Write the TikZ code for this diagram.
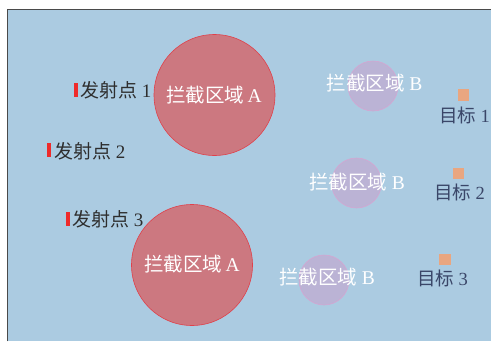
\documentclass[tikz,border=0pt]{standalone}
\usepackage{fontspec}
\setmainfont{Liberation Serif}
\newfontfamily\cjk{Noto Sans CJK SC}
\definecolor{bgblue}{HTML}{ABCBE1}
\definecolor{frameg}{HTML}{4A4A4A}
\definecolor{afill}{HTML}{CC7880}
\definecolor{aline}{HTML}{E0404A}
\definecolor{bfill}{HTML}{BBB3D5}
\definecolor{bline}{HTML}{D4A6D2}
\definecolor{tgt}{HTML}{E9A680}
\definecolor{tgttext}{HTML}{3A4668}
\definecolor{lchtext}{HTML}{2E2E2E}
\definecolor{lchred}{HTML}{EE2A2A}
\tikzset{
  zoneA/.style={circle, fill=afill, draw=aline, line width=0.6pt, minimum size=121pt, inner sep=0pt},
  zoneB/.style={circle, fill=bfill, draw=bline, line width=0.6pt, minimum size=50pt, inner sep=0pt},
  ztext/.style={text=white, inner sep=0pt, font=\fontsize{19.5}{21}\selectfont},
  ltext/.style={text=lchtext, inner sep=0pt, anchor=west, font=\fontsize{19}{21}\selectfont},
  ttext/.style={text=tgttext, inner sep=0pt, font=\fontsize{18.5}{20}\selectfont},
  lmark/.style={fill=lchred, draw=none, minimum width=4pt, minimum height=14pt, inner sep=0pt},
  tmark/.style={fill=tgt, draw=none, minimum size=11.5pt, inner sep=0pt}
}
\begin{document}
\begin{tikzpicture}[x=1pt,y=-1pt]
\useasboundingbox (0,0) rectangle (491,341);
\fill[white] (0,0) rectangle (491,341);
\node[fill=bgblue, draw=none, minimum width=483.5pt, minimum height=331.5pt, inner sep=0pt, anchor=north west] (frame) at (7.5,9.5) {};
\draw[frameg, line width=1pt] (frame.south west) -- (frame.north west) -- (frame.north east);
% zones A
\node[zoneA] (A1) at (214.5,95) {};
\node[zoneA] (A2) at (192,265) {};
% zones B
\node[zoneB] (B1) at (373,86) {};
\node[zoneB] (B2) at (356.5,183) {};
\node[zoneB] (B3) at (324,280) {};
% zone labels
\node[ztext] (lA1) at (214,95) {{\cjk 拦截区域}\,A};
\node[ztext] (lA2) at (192,264) {{\cjk 拦截区域}\,A};
\node[ztext] (lB1) at (374.5,83) {{\cjk 拦截区域} B};
\node[ztext] (lB2) at (357,182) {{\cjk 拦截区域} B};
\node[ztext] (lB3) at (327,277) {{\cjk 拦截区域} B};
% launch points
\node[lmark] (L1) at (76,90) {};
\node[lmark] (L2) at (49,150) {};
\node[lmark] (L3) at (68,219) {};
\node[ltext] (tL1) at (80,90) {{\cjk 发射点} 1};
\node[ltext] (tL2) at (54,151) {{\cjk 发射点} 2};
\node[ltext] (tL3) at (72,219) {{\cjk 发射点} 3};
% targets
\node[tmark] (T1) at (463.5,95) {};
\node[tmark] (T2) at (458.5,173.5) {};
\node[tmark] (T3) at (445,259.5) {};
\node[ttext] (tT1) at (464.5,115) {{\cjk 目标} 1};
\node[ttext] (tT2) at (459.5,192) {{\cjk 目标} 2};
\node[ttext] (tT3) at (442.5,278) {{\cjk 目标} 3};
\end{tikzpicture}
\end{document}
